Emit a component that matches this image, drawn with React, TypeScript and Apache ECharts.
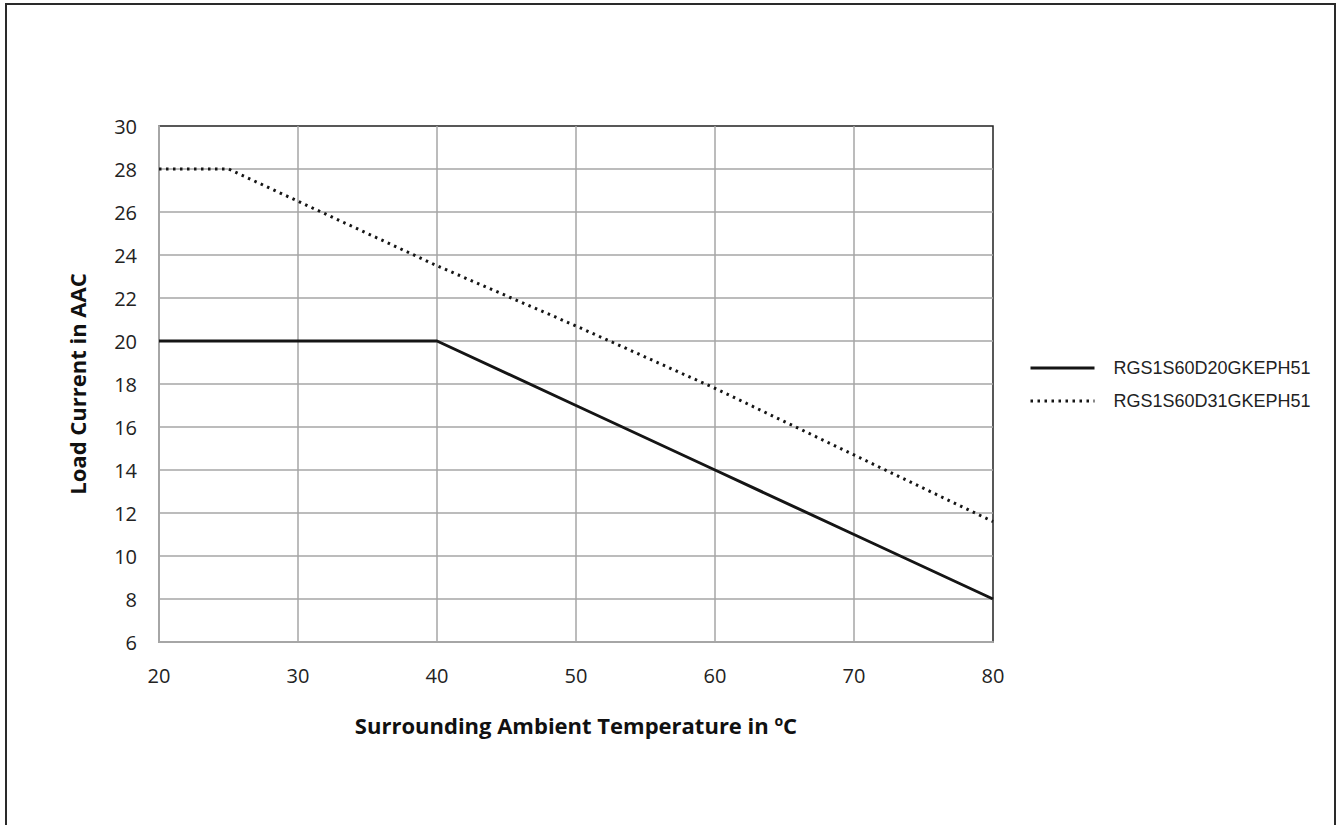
import React, { useEffect, useRef } from "react";
import * as echarts from "echarts";

const temps = [20, 25, 30, 40, 50, 60, 70, 80];
const seriesNames = ["RGS1S60D20GKEPH51", "RGS1S60D31GKEPH51"];
const loadD20 = [20, 20, 20, 20, 17, 14, 11, 8];
const loadD31 = [28, 28, 26.5, 23.5, 20.7, 17.8, 14.7, 11.6];
const yTitle = "Load Current in AAC";
const xTitle = "Surrounding Ambient Temperature in {sup|o}C";

export default function App() {
  const ref = useRef<HTMLDivElement>(null);
  useEffect(() => {
    if (!ref.current) return;
    const chart = echarts.init(ref.current, undefined, { renderer: "svg" });
    const labelFont = {
      fontFamily: "Open Sans",
      fontSize: 20,
      color: "#222",
    };
    chart.setOption({
      animation: false,
      backgroundColor: "#fff",
      grid: {
        left: 159,
        right: 345,
        top: 126,
        bottom: 183,
        show: true,
        borderColor: "#222",
        borderWidth: 1.5,
        backgroundColor: "transparent",
      },
      xAxis: {
        type: "value",
        min: 20,
        max: 80,
        interval: 10,
        axisLine: { show: true, lineStyle: { color: "#a6a6a6", width: 2 } },
        axisTick: { show: false },
        axisLabel: { ...labelFont, margin: 23 },
        splitLine: {
          show: true,
          showMinLine: false,
          showMaxLine: false,
          lineStyle: { color: "#a6a6a6", width: 1.5 },
        },
      },
      yAxis: {
        type: "value",
        min: 6,
        max: 30,
        interval: 2,
        axisLine: { show: true, lineStyle: { color: "#a6a6a6", width: 2 } },
        axisTick: { show: false },
        axisLabel: { ...labelFont, margin: 22 },
        splitLine: {
          show: true,
          showMinLine: false,
          showMaxLine: false,
          lineStyle: { color: "#a6a6a6", width: 1.5 },
        },
      },
      legend: {
        orient: "vertical",
        left: 1024,
        top: 354,
        itemWidth: 64,
        itemHeight: 20,
        itemGap: 15,
        itemStyle: { opacity: 0 },
        lineStyle: { width: 3 },
        textStyle: {
          fontFamily: "Liberation Sans",
          fontSize: 18,
          color: "#222",
          padding: [0, 0, 0, 14],
        },
        data: seriesNames,
      },
      series: [
        {
          name: seriesNames[0],
          type: "line",
          data: temps.map((t, i) => [t, loadD20[i]]),
          symbol: "none",
          lineStyle: { color: "#151515", width: 3 },
          itemStyle: { color: "#151515" },
          z: 3,
        },
        {
          name: seriesNames[1],
          type: "line",
          data: temps.map((t, i) => [t, loadD31[i]]),
          symbol: "none",
          lineStyle: { color: "#151515", width: 3, type: [2.5, 4.5] },
          itemStyle: { color: "#151515" },
          z: 3,
        },
      ],
      graphic: [
        {
          type: "rect",
          shape: { x: 6, y: 4, width: 1329, height: 900 },
          style: { fill: "none", stroke: "#2a2a2a", lineWidth: 2 },
          silent: true,
        },
        {
          type: "text",
          x: 77,
          y: 384,
          rotation: Math.PI / 2,
          style: {
            text: yTitle,
            fontFamily: "Open Sans",
            fontWeight: "bold",
            fontSize: 22,
            fill: "#111",
            align: "center",
            verticalAlign: "middle",
          },
        },
        {
          type: "text",
          x: 576,
          y: 725,
          style: {
            text: xTitle,
            fontFamily: "Open Sans",
            fontWeight: "bold",
            fontSize: 22,
            fill: "#111",
            align: "center",
            verticalAlign: "middle",
            rich: {
              sup: {
                fontFamily: "Open Sans",
                fontWeight: "bold",
                fontSize: 14,
                verticalAlign: "bottom",
                padding: [0, 0, 9, 0],
              },
            },
          },
        },
      ],
    });
    return () => chart.dispose();
  }, []);
  return (
    <div
      ref={ref}
      style={{ position: "absolute", left: 0, top: 0, width: 1338, height: 825 }}
    />
  );
}
